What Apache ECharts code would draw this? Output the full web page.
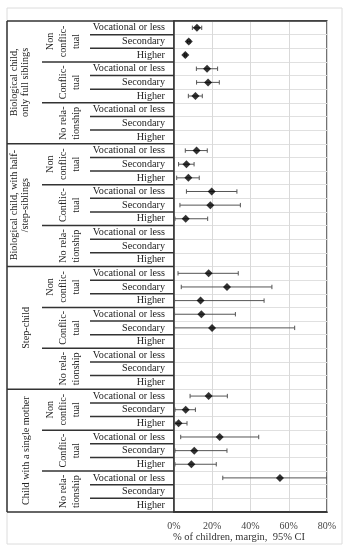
<!DOCTYPE html>
<html><head><meta charset="utf-8">
<script src="https://cdn.jsdelivr.net/npm/echarts@6/dist/echarts.min.js"></script>
<style>html,body{margin:0;padding:0;background:#fff}#c{width:349px;height:550px}</style>
</head><body><div id="c"></div>
<script>
// ---- data ----
const families = ['Biological child,\nonly full siblings', 'Biological child, with half-\n/step-siblings', 'Step-child', 'Child with a single mother'];
const relations = ['Non\nconflic-\ntual', 'Conflic-\ntual', 'No rela-\ntionship'];
const educations = ['Vocational or less', 'Secondary', 'Higher'];
const xTicks = [0, 20, 40, 60, 80];
const xTitle = '% of children, margin,  95% CI';
// rows ordered family > relation > education; null = not estimated
const estimate = [
  12.0, 7.7, 5.9,   17.3, 17.8, 11.2,   null, null, null,
  11.8, 6.5, 7.5,   19.7, 19.0, 6.1,    null, null, null,
  18.1, 27.7, 13.9, 14.3, 19.9, null,   null, null, null,
  18.1, 6.1, 2.4,   23.9, 10.6, 9.1,    55.4, null, null
];
const ciLow = [
  9.6, 7.0, 5.4,    11.7, 11.8, 7.5,    null, null, null,
  5.9, 2.4, 1.4,    6.5, 3.1, 0.5,      null, null, null,
  2.1, 3.8, 0.3,    0.3, 0.3, null,     null, null, null,
  8.4, 0.5, 0.5,    3.5, 0.5, 0.5,      25.5, null, null
];
const ciHigh = [
  14.5, 8.4, 6.4,   22.8, 23.7, 14.8,   null, null, null,
  17.4, 10.5, 13.2, 32.9, 34.7, 17.6,   null, null, null,
  33.6, 51.2, 47.1, 32.1, 63.1, null,   null, null, null,
  27.9, 11.2, 6.8,  44.3, 27.7, 22.1,   80, null, null
];

// ---- chart ----
const FONT = 'Liberation Serif';
const rows = estimate.map((_, i) => String(i));
const pointData = [], barData = [];
estimate.forEach((v, i) => {
  if (v !== null) pointData.push([v, i]);
  if (ciLow[i] !== null) barData.push([ciLow[i], ciHigh[i], i]);
});

const chart = echarts.init(document.getElementById('c'), null, {renderer: 'canvas'});
chart.setOption({
  animation: false,
  backgroundColor: '#fff',
  grid: {left: 174, right: 22, top: 21, bottom: 38, show: true, borderColor: '#444', borderWidth: 1.5, backgroundColor: 'transparent'},
  xAxis: {
    type: 'value', min: xTicks[0], max: xTicks[xTicks.length - 1], interval: xTicks[1] - xTicks[0],
    axisLine: {show: true, lineStyle: {color: '#333', width: 1.5}},
    axisTick: {show: false},
    axisLabel: {formatter: '{value}%', fontFamily: FONT, fontSize: 10, color: '#444', margin: 9},
    splitLine: {show: true, lineStyle: {color: '#d9d9d9', width: 1}}
  },
  yAxis: {
    type: 'category', inverse: true, data: rows,
    axisLine: {show: true, lineStyle: {color: '#333', width: 1.5}},
    axisTick: {show: false},
    axisLabel: {formatter: (v, i) => educations[i % 3], fontFamily: FONT, fontSize: 10.2, color: '#222', margin: 9},
    splitLine: {show: true, lineStyle: {color: '#e0e0e0', width: 1}}
  },
  series: [
    {
      type: 'custom', clip: true,
      encode: {x: [0, 1], y: 2},
      data: barData,
      renderItem: function (params, api) {
        const lo = api.coord([api.value(0), api.value(2)]);
        const hi = api.coord([api.value(1), api.value(2)]);
        const h = 2.2;
        const st = {stroke: '#555', lineWidth: 1};
        return {type: 'group', children: [
          {type: 'line', shape: {x1: lo[0], y1: lo[1], x2: hi[0], y2: hi[1]}, style: st},
          {type: 'line', shape: {x1: lo[0], y1: lo[1] - h, x2: lo[0], y2: lo[1] + h}, style: st},
          {type: 'line', shape: {x1: hi[0], y1: hi[1] - h, x2: hi[0], y2: hi[1] + h}, style: st}
        ]};
      }
    },
    {
      type: 'scatter', data: pointData, symbol: 'diamond', symbolSize: 8,
      itemStyle: {color: '#000'}, z: 5
    }
  ]
});

// ---- left hierarchical table, positioned from the category axis ----
const c0 = chart.convertToPixel({yAxisIndex: 0}, rows[0]);
const c1 = chart.convertToPixel({yAxisIndex: 0}, rows[1]);
const band = c1 - c0;
const tableTop = c0 - band / 2;
const yb = k => tableTop + k * band;
const gx0 = chart.convertToPixel({xAxisIndex: 0}, xTicks[0]);
const gx1 = chart.convertToPixel({xAxisIndex: 0}, xTicks[xTicks.length - 1]);
const colL = 7, col2 = 42, col3 = 90;
const gfx = [];
const lineStyle = {stroke: '#333', lineWidth: 1.5};
gfx.push({type: 'rect', shape: {x: 7, y: 8, width: 335, height: 536}, style: {fill: 'none', stroke: '#dcdcdc', lineWidth: 1}, silent: true});
for (let k = 0; k <= rows.length; k++) {
  let x1 = col3, x2 = gx0;
  if (k % 9 === 0) x1 = colL;
  else if (k % 3 === 0) x1 = col2;
  if (k === 0 || k === rows.length) x2 = gx1;
  gfx.push({type: 'line', shape: {x1: x1, y1: yb(k), x2: x2, y2: yb(k)}, style: lineStyle, z: 10});
}
gfx.push({type: 'line', shape: {x1: colL, y1: yb(0), x2: colL, y2: yb(rows.length)}, style: lineStyle, z: 10});
families.forEach((f, fi) => {
  const nl = f.split('\n').length;
  gfx.push({type: 'text', x: nl > 1 ? 19.5 : 26, y: (yb(fi * 9) + yb(fi * 9 + 9)) / 2, rotation: Math.PI / 2,
    style: {text: f, fontFamily: FONT, fontSize: 10.2, fill: '#222', textAlign: 'center', textVerticalAlign: 'middle', lineHeight: 11}, z: 10});
  relations.forEach((r, ri) => {
    const k = fi * 9 + ri * 3;
    const rl = r.split('\n').length;
    gfx.push({type: 'text', x: rl > 2 ? 63 : 69.5, y: (yb(k) + yb(k + 3)) / 2, rotation: Math.PI / 2,
      style: {text: r, fontFamily: FONT, fontSize: 10.2, fill: '#222', textAlign: 'center', textVerticalAlign: 'middle', lineHeight: 13}, z: 10});
  });
});
gfx.push({type: 'text', x: 239, y: 537, style: {text: xTitle, fontFamily: FONT, fontSize: 10.5, fill: '#333', textAlign: 'center', textVerticalAlign: 'middle'}});
chart.setOption({graphic: gfx});
</script>
</body></html>
